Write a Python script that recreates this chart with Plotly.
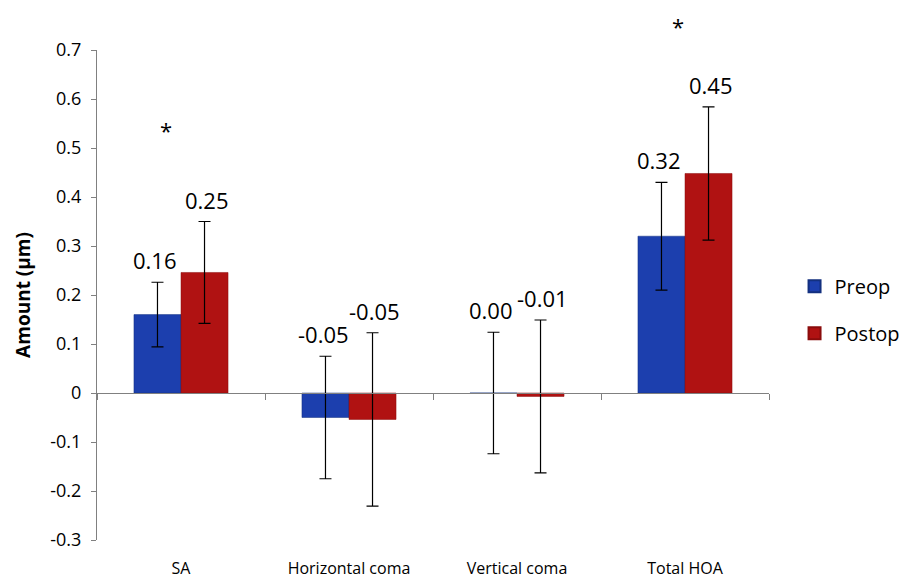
import plotly.graph_objects as go

categories = ["SA", "Horizontal coma", "Vertical coma", "Total HOA"]
preop_values = [0.16, -0.05, 0.00, 0.32]
postop_values = [0.246, -0.054, -0.007, 0.448]
preop_err = [0.066, 0.125, 0.124, 0.11]
postop_err = [0.104, 0.177, 0.156, 0.136]
preop_labels = ["0.16", "-0.05", "0.00", "0.32"]
postop_labels = ["0.25", "-0.05", "-0.01", "0.45"]
star_categories = ["SA", "Total HOA"]
star_y = [0.547, 0.76]
star_xshift = [-15, -7]

Y_MIN, Y_MAX = -0.3, 0.7

BLUE = "#1c3fae"
RED = "#b01212"
FONT = "Open Sans, Noto Sans, sans-serif"

fig = go.Figure()
fig.add_trace(go.Bar(
    name="Preop", x=categories, y=preop_values, marker=dict(color=BLUE, line=dict(color="#13307f", width=0.5)),
    error_y=dict(type="data", array=preop_err, visible=True, color="black", thickness=1.2, width=6),
    legendgroup="a",
))
fig.add_trace(go.Bar(
    name="Postop", x=categories, y=postop_values, marker=dict(color=RED, line=dict(color="#8a0c0c", width=0.5)),
    error_y=dict(type="data", array=postop_err, visible=True, color="black", thickness=1.2, width=6),
    legendgroup="b",
))
# dummy trace for the zero-line axis with boundary ticks
fig.add_trace(go.Scatter(x=categories, y=[None]*len(categories), xaxis="x2", showlegend=False, hoverinfo="skip"))

plot_w = 908 - 97 - 139
bargap = 0.44
half_bar = plot_w / len(categories) * (1 - bargap) / 4

annotations = []
for c, v, e, t in zip(categories, preop_values, preop_err, preop_labels):
    annotations.append(dict(x=c, y=v + e, text=t, showarrow=False, xshift=-half_bar - 2,
                            yanchor="bottom", yshift=5, font=dict(family=FONT, size=22, color="black")))
for c, v, e, t in zip(categories, postop_values, postop_err, postop_labels):
    annotations.append(dict(x=c, y=v + e, text=t, showarrow=False, xshift=half_bar + 2,
                            yanchor="bottom", yshift=5, font=dict(family=FONT, size=22, color="black")))
for c, y, xs in zip(star_categories, star_y, star_xshift):
    annotations.append(dict(x=c, yref="paper", y=(y - Y_MIN) / (Y_MAX - Y_MIN), text="*", showarrow=False,
                            xshift=xs, yanchor="middle", yshift=-5, font=dict(family=FONT, size=22, color="black")))

fig.update_layout(
    width=908, height=578,
    paper_bgcolor="white", plot_bgcolor="white",
    margin=dict(l=97, r=139, t=50, b=38, autoexpand=False),
    barmode="group", bargap=bargap, bargroupgap=0,
    showlegend=True,
    legend=dict(x=1.038, y=0.47, xanchor="left", yanchor="middle", traceorder="grouped",
                tracegroupgap=18, font=dict(family=FONT, size=20, color="black"),
                itemwidth=30, itemsizing="constant", bgcolor="rgba(0,0,0,0)"),
    xaxis=dict(type="category", categoryorder="array", categoryarray=categories,
               showline=False, showgrid=False, zeroline=False, ticks="", automargin=False,
               tickfont=dict(family=FONT, size=16, color="black"), ticklabelstandoff=17),
    xaxis2=dict(type="category", categoryorder="array", categoryarray=categories, matches="x",
                overlaying="x", anchor="free", position=0.3, side="bottom", automargin=False,
                showline=True, linecolor="#808080", linewidth=1, ticks="outside",
                tickson="boundaries", ticklen=6, tickcolor="#808080", showticklabels=False,
                showgrid=False, zeroline=False),
    yaxis=dict(range=[Y_MIN, Y_MAX], tickvals=[-0.3, -0.2, -0.1, 0, 0.1, 0.2, 0.3, 0.4, 0.5, 0.6, 0.7],
               ticktext=["-0.3", "-0.2", "-0.1", "0", "0.1", "0.2", "0.3", "0.4", "0.5", "0.6", "0.7"],
               showline=True, linecolor="#808080", linewidth=1, ticks="outside", ticklen=5,
               tickcolor="#808080", showgrid=False, zeroline=False, automargin=False,
               tickfont=dict(family=FONT, size=18, color="black"), ticklabelstandoff=6,
               title=dict(text="<b>Amount (µm)</b>", font=dict(family=FONT, size=19, color="black"), standoff=14)),
    annotations=annotations,
)

fig.write_html("out.html", config={"displayModeBar": False},
               post_script="document.body.style.margin='0';document.body.style.padding='0';")
